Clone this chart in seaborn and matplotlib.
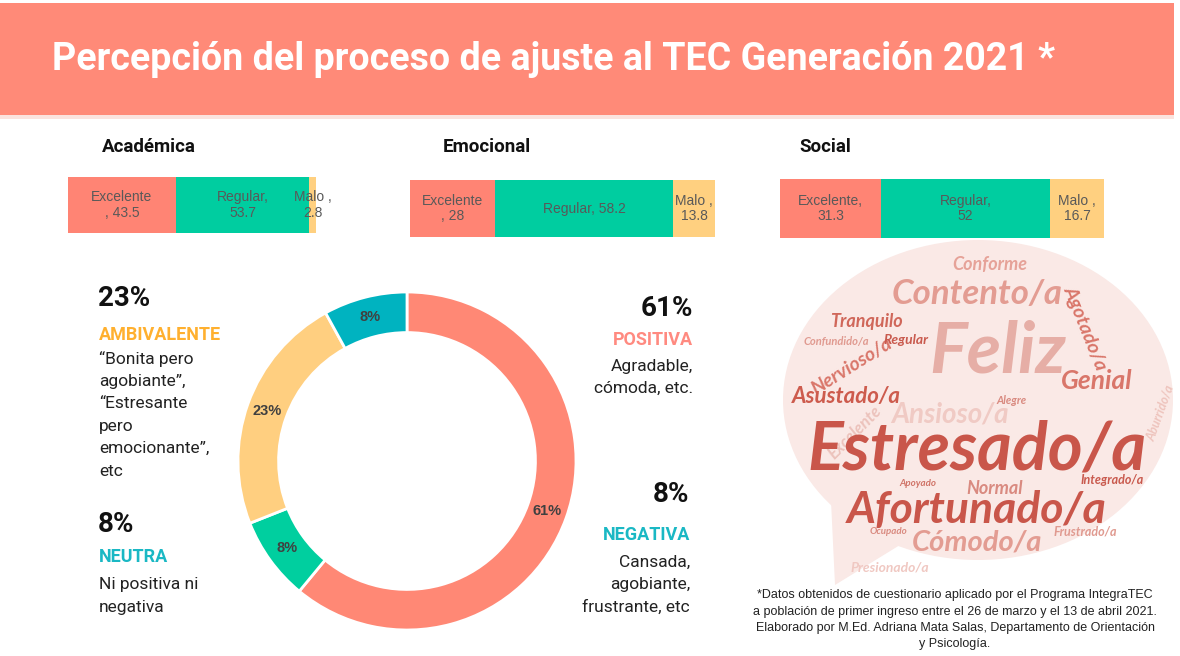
import numpy as np
import pandas as pd
import matplotlib
matplotlib.use("Agg")
import matplotlib.pyplot as plt
from matplotlib.patches import Rectangle, Ellipse, Polygon
import seaborn as sns

# --- data ---
categories = ["Excelente", "Regular", "Malo"]
academica = [43.5, 53.7, 2.8]
emocional = [28, 58.2, 13.8]
social = [31.3, 52, 16.7]

donut_labels = ["Positiva", "Negativa", "Ambivalente", "Neutra"]
donut_values = [61, 8, 23, 8]

bar_colors = ["#FF8474", "#00CDA0", "#FFD080"]
donut_colors = ["#FF8875", "#00CF9F", "#FFCF80", "#00B3C0"]

# word cloud words: (word, x, y, size, color, rotation)
words = [
    ("Conforme", 990, 264, 13, "#E6A298", 0),
    ("Contento/a", 977, 294, 25, "#E39C92", 0),
    ("Agotado/a", 1085, 328, 14, "#D9766A", -68),
    ("Tranquilo", 866, 321, 13, "#D0675A", 0),
    ("Confundido/a", 836, 342, 8, "#E09A90", 0),
    ("Nervioso/a", 852, 366, 14, "#D9766A", 32),
    ("Feliz", 998, 352, 51, "#E6AEA6", 0),
    ("Regular", 906, 340, 10, "#C95A4E", 0),
    ("Genial", 1097, 381, 19, "#D9766A", 0),
    ("Asustado/a", 846, 396, 16, "#CD5B4D", 0),
    ("Alegre", 1012, 400, 8, "#D98A80", 0),
    ("Ansioso/a", 950, 414, 20, "#F0CAC4", 0),
    ("Excelente", 855, 432, 12, "#ECC2BB", 45),
    ("Aburrido/a", 1160, 413, 9, "#EEC4BD", 70),
    ("Estresado/a", 977, 450, 48, "#C9564A", 0),
    ("Apoyado", 918, 483, 7, "#D07468", 0),
    ("Normal", 995, 488, 13, "#D98A80", 0),
    ("Integrado/a", 1112, 480, 9, "#C95A4E", 0),
    ("Afortunado/a", 977, 510, 32, "#C9564A", 0),
    ("Ocupado", 888, 531, 7, "#D98A80", 0),
    ("Frustrado/a", 1085, 532, 9, "#E09A90", 0),
    ("Cómodo/a", 977, 543, 21, "#E39C92", 0),
    ("Presionado/a", 890, 568, 10, "#F0C8C2", 0),
]

W, H = 1180, 656
sns.set_theme(style="white")
plt.rcParams["font.family"] = ["Roboto", "DejaVu Sans"]
cond = ["Roboto", "DejaVu Sans"]
arial = ["Liberation Sans", "DejaVu Sans"]


def rect(x0, y0, x1, y1):
    return [x0 / W, 1 - y1 / H, (x1 - x0) / W, (y1 - y0) / H]


fig = plt.figure(figsize=(W / 100, H / 100), dpi=100)
fig.patch.set_facecolor("white")

# overlay axes in pixel coordinates
bg = fig.add_axes([0, 0, 1, 1])
bg.set_xlim(0, W)
bg.set_ylim(H, 0)
bg.axis("off")

# banner
bg.add_patch(Rectangle((0, 3), 1174, 112, color="#FF8A78", lw=0))
bg.add_patch(Rectangle((0, 115), 1174, 4, color="#FBE3DE", lw=0))
bg.text(52, 60, "Percepción del proceso de ajuste al TEC Generación 2021 *",
        color="white", fontsize=27, fontweight="bold", family=cond,
        va="center", ha="left")

# section headings
for txt, x in [("Académica", 102), ("Emocional", 443), ("Social", 799)]:
    bg.text(x, 147, txt, fontsize=13.5, fontweight="bold", family=cond,
            color="#111111", va="center", ha="left")

# stacked bars (layered cumulative seaborn bars)
panels = [
    (academica, (68, 177, 316, 233), ["Excelente\n, {}", "Regular,\n{}", "Malo ,\n{}"]),
    (emocional, (410, 180, 715, 237), ["Excelente\n, {}", "Regular, {}", "Malo ,\n{}"]),
    (social, (780, 179, 1104, 238), ["Excelente,\n{}", "Regular,\n{}", "Malo ,\n{}"]),
]
for vals, box, fmts in panels:
    ax = fig.add_axes(rect(*box))
    cum = np.cumsum(vals)
    for i in range(len(vals) - 1, -1, -1):
        df = pd.DataFrame({"cat": ["x"], "val": [cum[i]]})
        sns.barplot(data=df, x="val", y="cat", orient="h", color=bar_colors[i],
                    width=1, saturation=1, ax=ax, linewidth=0)
    starts = cum - np.array(vals)
    for i, v in enumerate(vals):
        lab = fmts[i].format(f"{v:g}")
        ax.text(starts[i] + v / 2, 0, lab, ha="center", va="center",
                fontsize=10, color="#595959", family=arial, linespacing=1.15)
    ax.set_xlim(0, 100)
    ax.set_ylim(0.5, -0.5)
    ax.axis("off")

# donut
dax = fig.add_axes(rect(238, 292, 576, 630))
wedges, texts, autotexts = dax.pie(
    donut_values, colors=donut_colors, startangle=90, counterclock=False,
    autopct="%1.0f%%", pctdistance=0.88, radius=1,
    wedgeprops=dict(width=0.24, edgecolor="white", linewidth=2),
    textprops=dict(fontsize=10.5, fontweight="bold", color="#404040", family=arial))
dax.set_xlim(-1, 1)
dax.set_ylim(-1, 1)
dax.set_aspect("equal")
dax.axis("off")

# left text blocks
body = dict(fontsize=12.5, color="#222222", va="center", ha="left")
bg.text(98, 298, "23%", fontsize=20, fontweight="bold", family=cond, color="#111111", va="center")
bg.text(99, 335, "AMBIVALENTE", fontsize=13, fontweight="bold", family=cond, color="#FFB02F", va="center")
for j, line in enumerate(["\u201cBonita pero", "agobiante\u201d,", "\u201cEstresante", "pero",
                          "emocionante\u201d,", "etc"]):
    bg.text(99, 359 + j * 22.4, line, **body)
bg.text(98, 525, "8%", fontsize=20, fontweight="bold", family=cond, color="#111111", va="center")
bg.text(99, 557, "NEUTRA", fontsize=13, fontweight="bold", family=cond, color="#1AB8C4", va="center")
for j, line in enumerate(["Ni positiva ni", "negativa"]):
    bg.text(99, 585 + j * 22.4, line, **body)

# right text blocks
rbody = dict(fontsize=12.5, color="#222222", va="center", ha="right")
bg.text(693, 308, "61%", fontsize=20, fontweight="bold", family=cond, color="#111111", va="center", ha="right")
bg.text(693, 340, "POSITIVA", fontsize=13, fontweight="bold", family=cond, color="#FF8A80", va="center", ha="right")
for j, line in enumerate(["Agradable,", "cómoda, etc."]):
    bg.text(693, 366 + j * 22.4, line, **rbody)
bg.text(689, 494, "8%", fontsize=20, fontweight="bold", family=cond, color="#111111", va="center", ha="right")
bg.text(690, 535, "NEGATIVA", fontsize=13, fontweight="bold", family=cond, color="#1AB8C4", va="center", ha="right")
for j, line in enumerate(["Cansada,", "agobiante,", "frustrante, etc"]):
    bg.text(690, 562 + j * 22.4, line, **rbody)

# word cloud speech bubble
bg.add_patch(Ellipse((978, 400), 390, 320, color="#FAE9E6", lw=0, zorder=1))
bg.add_patch(Polygon([(830, 480), (900, 545), (835, 585)], closed=True,
                     color="#FAE9E6", lw=0, zorder=1))
for w, x, y, s, c, r in words:
    bg.text(x, y, w, fontsize=s, color=c, rotation=r, ha="center", va="center",
            family=["Lato", "DejaVu Sans"], fontstyle="italic", fontweight="bold", zorder=2)

# footnote
foot = ["*Datos obtenidos de cuestionario aplicado por el Programa IntegraTEC",
        "a población de primer ingreso entre el 26 de marzo y el 13 de abril 2021.",
        "Elaborado por M.Ed. Adriana Mata Salas, Departamento de Orientación",
        "y Psicología."]
for j, line in enumerate(foot):
    bg.text(955, 595 + j * 16.5, line, fontsize=9, color="#222222", ha="center", va="center",
            family=arial, zorder=3)

fig.savefig("out.png", dpi=100)
